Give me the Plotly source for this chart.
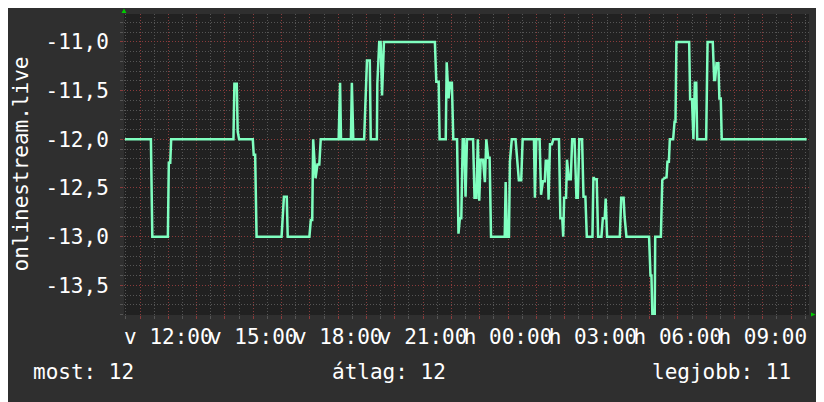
import pandas as pd
import plotly.graph_objects as go

# onlinestream.live helyezés az elmúlt napban (v = vasárnap, h = hétfő)
idopontok = [
    "v 10:28", "v 11:23", "v 11:26", "v 11:59", "v 12:01", "v 12:04", "v 12:06", "v 14:18",
    "v 14:20", "v 14:25", "v 14:27", "v 14:30", "v 14:59", "v 15:01", "v 15:04", "v 15:07",
    "v 16:00", "v 16:02", "v 16:05", "v 16:11", "v 16:13", "v 16:59", "v 17:02", "v 17:05",
    "v 17:07", "v 17:12", "v 17:16", "v 17:20", "v 17:23", "v 18:01", "v 18:04", "v 18:06",
    "v 18:27", "v 18:29", "v 18:32", "v 18:55", "v 18:58", "v 19:01", "v 19:07", "v 19:09",
    "v 19:22", "v 19:23", "v 19:27", "v 19:30", "v 19:33", "v 19:37", "v 21:25", "v 21:28",
    "v 21:33", "v 21:35", "v 21:48", "v 21:50", "v 21:54", "v 21:57", "v 22:01", "v 22:04",
    "v 22:12", "v 22:15", "v 22:18", "v 22:21", "v 22:24", "v 22:27", "v 22:30", "v 22:33",
    "v 22:46", "v 22:49", "v 22:53", "v 22:56", "v 22:59", "v 23:02", "v 23:07", "v 23:11",
    "v 23:14", "v 23:18", "v 23:21", "v 23:24", "v 23:53", "v 23:55", "v 23:58", "h 00:02",
    "h 00:04", "h 00:08", "h 00:16", "h 00:19", "h 00:23", "h 00:28", "h 00:31", "h 00:55",
    "h 00:57", "h 01:00", "h 01:07", "h 01:10", "h 01:14", "h 01:18", "h 01:20", "h 01:24",
    "h 01:26", "h 01:29", "h 01:33", "h 01:36", "h 01:48", "h 01:51", "h 01:55", "h 01:57",
    "h 01:59", "h 02:03", "h 02:05", "h 02:09", "h 02:13", "h 02:16", "h 02:21", "h 02:25",
    "h 02:28", "h 02:31", "h 02:37", "h 02:40", "h 02:44", "h 02:47", "h 02:59", "h 03:01",
    "h 03:04", "h 03:08", "h 03:11", "h 03:18", "h 03:21", "h 03:25", "h 03:27", "h 03:30",
    "h 03:57", "h 04:00", "h 04:05", "h 04:07", "h 04:11", "h 04:59", "h 05:02", "h 05:04",
    "h 05:06", "h 05:11", "h 05:12", "h 05:24", "h 05:27", "h 05:31", "h 05:36", "h 05:38",
    "h 05:41", "h 05:43", "h 05:50", "h 05:53", "h 05:55", "h 05:57", "h 06:24", "h 06:26",
    "h 06:30", "h 06:33", "h 06:36", "h 06:39", "h 06:41", "h 07:00", "h 07:03", "h 07:14",
    "h 07:17", "h 07:19", "h 07:22", "h 07:26", "h 07:28", "h 07:31", "h 07:33", "h 10:33",
]
helyezes = [
    -12.0, -12.0, -13.0, -13.0, -12.24, -12.24, -12.0, -12.0,
    -11.43, -11.43, -11.92, -12.0, -12.0, -12.16, -12.16, -13.0,
    -13.0, -12.83, -12.59, -12.59, -13.0, -13.0, -12.83, -12.83,
    -12.0, -12.40, -12.26, -12.26, -12.0, -12.0, -11.42, -12.0,
    -12.0, -11.42, -12.0, -12.0, -11.66, -11.19, -11.19, -12.0,
    -12.0, -11.43, -11.0, -11.0, -11.55, -11.0, -11.0, -11.41,
    -11.41, -12.0, -12.0, -11.21, -11.58, -11.42, -11.42, -12.0,
    -12.0, -12.97, -12.81, -12.81, -12.0, -12.0, -12.59, -12.0,
    -12.0, -12.6, -12.6, -12.0, -12.63, -12.21, -12.21, -12.44,
    -12.0, -12.19, -12.19, -13.0, -13.0, -12.44, -13.0, -13.0,
    -12.23, -12.0, -12.0, -12.18, -12.42, -12.42, -12.0, -12.0,
    -12.6, -12.0, -12.0, -12.57, -12.43, -12.43, -12.22, -12.22,
    -12.62, -12.05, -12.05, -12.0, -12.0, -12.81, -12.81, -13.0,
    -12.6, -12.6, -12.21, -12.41, -12.41, -12.0, -12.0, -12.6,
    -12.6, -12.0, -12.0, -12.59, -12.59, -13.0, -13.0, -12.39,
    -12.41, -12.41, -13.0, -13.0, -12.81, -12.81, -12.61, -13.0,
    -13.0, -12.6, -12.6, -12.79, -13.0, -13.0, -13.4, -13.4,
    -13.8, -13.8, -13.0, -13.0, -12.42, -12.4, -12.39, -12.23,
    -12.23, -12.0, -12.0, -11.82, -11.82, -11.0, -11.0, -11.59,
    -11.59, -12.0, -11.42, -11.42, -12.0, -12.0, -11.0, -11.0,
    -11.39, -11.39, -11.22, -11.22, -11.58, -11.58, -12.0, -12.0,
]

x_cimkek = ["v 12:00", "v 15:00", "v 18:00", "v 21:00", "h 00:00", "h 03:00", "h 06:00", "h 09:00"]
y_ertekek = [-13.5, -13.0, -12.5, -12.0, -11.5, -11.0]
y_cimkek = ["-13,5", "-13,0", "-12,5", "-12,0", "-11,5", "-11,0"]
osszegzes = ["most: 12", "átlag: 12", "legjobb: 11"]

napok = {"v": "2024-03-10", "h": "2024-03-11"}


def to_time(s):
    nap, ora = s.split()
    return pd.Timestamp(napok[nap] + " " + ora)


ido = [to_time(s) for s in idopontok]
orak = pd.date_range(to_time("v 11:00"), to_time("h 10:00"), freq="h")
cimke_idok = {to_time(c): c for c in x_cimkek}
ora_szoveg = [cimke_idok.get(t, "") for t in orak]

FONT = "DejaVu Sans Mono"
SIZE = 21
MINOR = "#555555"
MAJOR = "#8a3b3b"

fig = go.Figure()
fig.add_trace(go.Scatter(
    x=ido, y=helyezes, mode="lines",
    line=dict(color="#80ffc0", width=2.5),
    showlegend=False,
))

# the page body adds an 8px offset, so the figure is drawn 8px smaller
fig.update_layout(
    width=816, height=394,
    margin=dict(l=116, r=15, t=6, b=87, autoexpand=False),
    paper_bgcolor="#2f2f2f",
    plot_bgcolor="#212121",
    font=dict(family=FONT, size=SIZE, color="#ffffff"),
)

fig.update_xaxes(
    range=[to_time("v 10:26"), to_time("h 10:38")],
    tickmode="array", tickvals=orak, ticktext=ora_szoveg, tickangle=0,
    showgrid=True, gridcolor=MAJOR, griddash="1px,2px", gridwidth=1,
    ticks="outside", ticklen=3, tickcolor=MAJOR,
    minor=dict(dtick=30 * 60 * 1000, tick0=to_time("v 00:00"), showgrid=True,
               gridcolor=MINOR, griddash="1px,2px", ticks="outside", ticklen=3, tickcolor=MINOR),
    showline=False, zeroline=False, automargin=False,
    tickfont=dict(family=FONT, size=SIZE, color="#ffffff"),
)
fig.update_yaxes(
    range=[-13.805, -10.713],
    tickmode="array", tickvals=y_ertekek, ticktext=y_cimkek,
    showgrid=True, gridcolor=MAJOR, griddash="1px,2px", gridwidth=1,
    ticks="outside", ticklen=3, tickcolor=MAJOR,
    minor=dict(dtick=0.1, tick0=-11, showgrid=True, gridcolor=MINOR, griddash="1px,2px",
               ticks="outside", ticklen=3, tickcolor=MINOR),
    ticklabelstandoff=7,
    showline=False, zeroline=False, automargin=False,
    tickfont=dict(family=FONT, size=SIZE, color="#ffffff"),
)

# y tengely címe
fig.add_annotation(
    text="onlinestream.live", textangle=-90, showarrow=False,
    xref="paper", yref="paper", x=-0.1518, y=0.5, xanchor="center", yanchor="middle",
    font=dict(family=FONT, size=SIZE, color="#ffffff"),
)

# összegzés a grafikon alatt
for szoveg, xp, anchor in zip(osszegzes, [-0.1358, 0.3007, 0.9766], ["left", "left", "right"]):
    fig.add_annotation(
        text=szoveg, showarrow=False, xref="paper", yref="paper",
        x=xp, y=-0.1894, xanchor=anchor, yanchor="middle",
        font=dict(family=FONT, size=SIZE, color="#ffffff"),
    )

# zöld nyilak a tengelyek végén
fig.add_shape(type="path", xref="paper", yref="paper",
              path="M -0.0036,1.0033 L 0.0036,1.0033 L 0,1.0183 Z",
              fillcolor="#00cc00", line=dict(width=0))
fig.add_shape(type="path", xref="paper", yref="paper",
              path="M 1.0029,0.0083 L 1.0029,-0.005 L 1.0095,0.0017 Z",
              fillcolor="#00cc00", line=dict(width=0))

fig.write_html("out.html")
